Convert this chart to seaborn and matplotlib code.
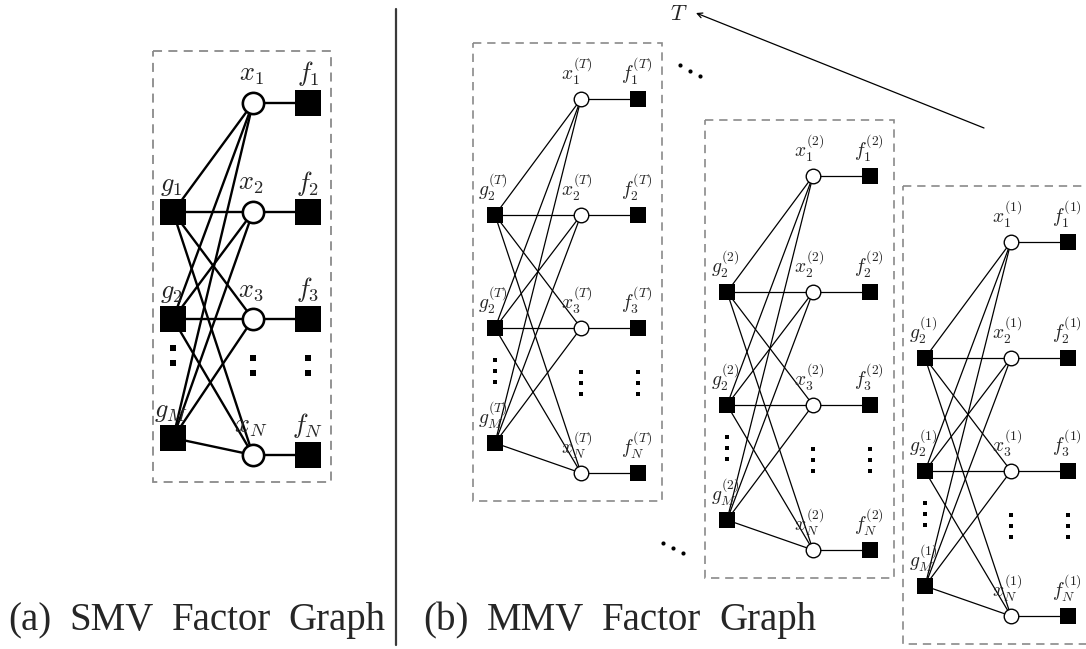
import numpy as np
import pandas as pd
import matplotlib
matplotlib.use("Agg")
import matplotlib.pyplot as plt
from matplotlib.patches import Rectangle
import seaborn as sns

# ---------------- data (node names / labels) ----------------
x_index = ["1", "2", "3", "N"]          # variable nodes x_i
f_index = ["1", "2", "3", "N"]          # factor nodes f_i
g_index_a = ["1", "2", "M"]             # check nodes in SMV graph
g_index_b = ["2", "2", "M"]             # check nodes as printed in MMV graph
frames_b = ["T", "2", "1"]              # time frames (back to front)
captions = [["(a)", "SMV", "Factor", "Graph"], ["(b)", "MMV", "Factor", "Graph"]]

# ---------------- layout (pixel coordinates) ----------------
W, H = 1086, 649
# panel (a)
A_BOX = (153, 51, 178, 431)
A_GX, A_XX, A_FX = 173, 253, 308
A_X_ROWS = [103, 212, 319, 455]
A_G_ROWS = [212, 319, 438]
A_DOTS_G = [348, 363]
A_DOTS_X = [358, 373]
# panel (b) boxes: left, top
B_BOXES = [(473, 43), (705, 120), (903, 186)]
B_BW, B_BH = 189, 458
B_GX, B_XX, B_FX = 22, 108, 165
B_X_ROWS = [56, 172, 285, 430]
B_G_ROWS = [172, 285, 400]
B_DOTS_G = [317, 328, 339]
B_DOTS_X = [329, 340, 351]
CAP_START = [8, 423]
CAP_GAP = 18
CAP_BASE = 630

sns.set_theme(style="white")
plt.rcParams["mathtext.fontset"] = "cm"

fig = plt.figure(figsize=(W / 100, H / 100), dpi=100)
ax = fig.add_axes([0, 0, 1, 1])
ax.set_xlim(0, W)
ax.set_ylim(H, 0)
ax.axis("off")


def build(gx, xx, fx, g_rows, x_rows):
    segs = []
    sid = 0
    for gy in g_rows:
        for xy in x_rows:
            segs += [(sid, gx, gy), (sid, xx, xy)]
            sid += 1
    for xy in x_rows:
        segs += [(sid, xx, xy), (sid, fx, xy)]
        sid += 1
    return pd.DataFrame(segs, columns=["seg", "x", "y"])


def draw_graph(gx, xx, fx, g_rows, x_rows, lw, sq, circ, dot, dots_g, dots_x):
    seg = build(gx, xx, fx, g_rows, x_rows)
    sns.lineplot(data=seg, x="x", y="y", units="seg", estimator=None, sort=False,
                 color="black", linewidth=lw, ax=ax, legend=False, zorder=1)
    sq_df = pd.DataFrame({"x": [gx] * len(g_rows) + [fx] * len(x_rows),
                          "y": list(g_rows) + list(x_rows)})
    sns.scatterplot(data=sq_df, x="x", y="y", marker="s", s=sq, color="black",
                    linewidth=0, ax=ax, legend=False, zorder=3)
    c_df = pd.DataFrame({"x": [xx] * len(x_rows), "y": list(x_rows)})
    sns.scatterplot(data=c_df, x="x", y="y", marker="o", s=circ, color="white",
                    edgecolor="black", linewidth=lw * 1.1, ax=ax, legend=False, zorder=3)
    d_df = pd.DataFrame({"x": [gx] * len(dots_g) + [xx] * len(dots_x) + [fx] * len(dots_x),
                         "y": list(dots_g) + list(dots_x) + list(dots_x)})
    sns.scatterplot(data=d_df, x="x", y="y", marker="s", s=dot, color="black",
                    linewidth=0, ax=ax, legend=False, zorder=3)


# ---------------- panel (a) ----------------
ax.add_patch(Rectangle(A_BOX[:2], A_BOX[2], A_BOX[3], fill=False, edgecolor="#8a8a8a",
                       linewidth=1.3, linestyle=(0, (5, 3.5))))
draw_graph(A_GX, A_XX, A_FX, A_G_ROWS, A_X_ROWS, 1.7, 330, 235, 20, A_DOTS_G, A_DOTS_X)
for i, yv in zip(x_index, A_X_ROWS):
    ax.text(A_XX - 2, yv - 29, rf"$x_{{{i}}}$", ha="center", va="center", fontsize=19)
for i, yv in zip(f_index, A_X_ROWS):
    ax.text(A_FX, yv - 29, rf"$f_{{{i}}}$", ha="center", va="center", fontsize=19)
for i, yv in zip(g_index_a, A_G_ROWS):
    ax.text(A_GX - 2, yv - 27, rf"$g_{{{i}}}$", ha="center", va="center", fontsize=19)

# separator
ax.plot([396, 396], [9, 645], color="#3a3a3a", linewidth=1.6)

# ---------------- panel (b) ----------------
for t, (bl, bt) in zip(frames_b, B_BOXES):
    ax.add_patch(Rectangle((bl, bt), B_BW, B_BH, fill=False, edgecolor="#8a8a8a",
                           linewidth=1.2, linestyle=(0, (5, 3.5)), zorder=0))
    draw_graph(bl + B_GX, bl + B_XX, bl + B_FX,
               [bt + r for r in B_G_ROWS], [bt + r for r in B_X_ROWS],
               0.9, 135, 110, 12,
               [bt + r for r in B_DOTS_G], [bt + r for r in B_DOTS_X])
    for i, r in zip(x_index, B_X_ROWS):
        ax.text(bl + B_XX - 4, bt + r - 28, rf"$x_{{{i}}}^{{({t})}}$",
                ha="center", va="center", fontsize=14)
    for i, r in zip(f_index, B_X_ROWS):
        ax.text(bl + B_FX - 1, bt + r - 28, rf"$f_{{{i}}}^{{({t})}}$",
                ha="center", va="center", fontsize=14)
    for i, r in zip(g_index_b, B_G_ROWS):
        ax.text(bl + B_GX - 2, bt + r - 28, rf"$g_{{{i}}}^{{({t})}}$",
                ha="center", va="center", fontsize=14)

# ellipsis dots between frames
ell = pd.DataFrame({"x": [680, 690, 700, 663, 673, 683], "y": [65, 71, 76, 543, 548, 553]})
sns.scatterplot(data=ell, x="x", y="y", marker="o", s=9, color="black", linewidth=0,
                ax=ax, legend=False)

# time arrow
ax.annotate("", xy=(696, 13), xytext=(984, 128),
            arrowprops=dict(arrowstyle="->", color="black", lw=0.9, shrinkA=0, shrinkB=0,
                            mutation_scale=9))
ax.text(679, 14, r"$T$", ha="center", va="center", fontsize=16)

# ---------------- captions ----------------
renderer = fig.canvas.get_renderer()
for words, x0 in zip(captions, CAP_START):
    xv = x0
    for w in words:
        txt = ax.text(xv, CAP_BASE, w, ha="left", va="baseline", fontsize=28,
                      family="Liberation Serif")
        bb = txt.get_window_extent(renderer=renderer)
        xv = xv + bb.width + CAP_GAP

fig.savefig("out.png", dpi=100)
